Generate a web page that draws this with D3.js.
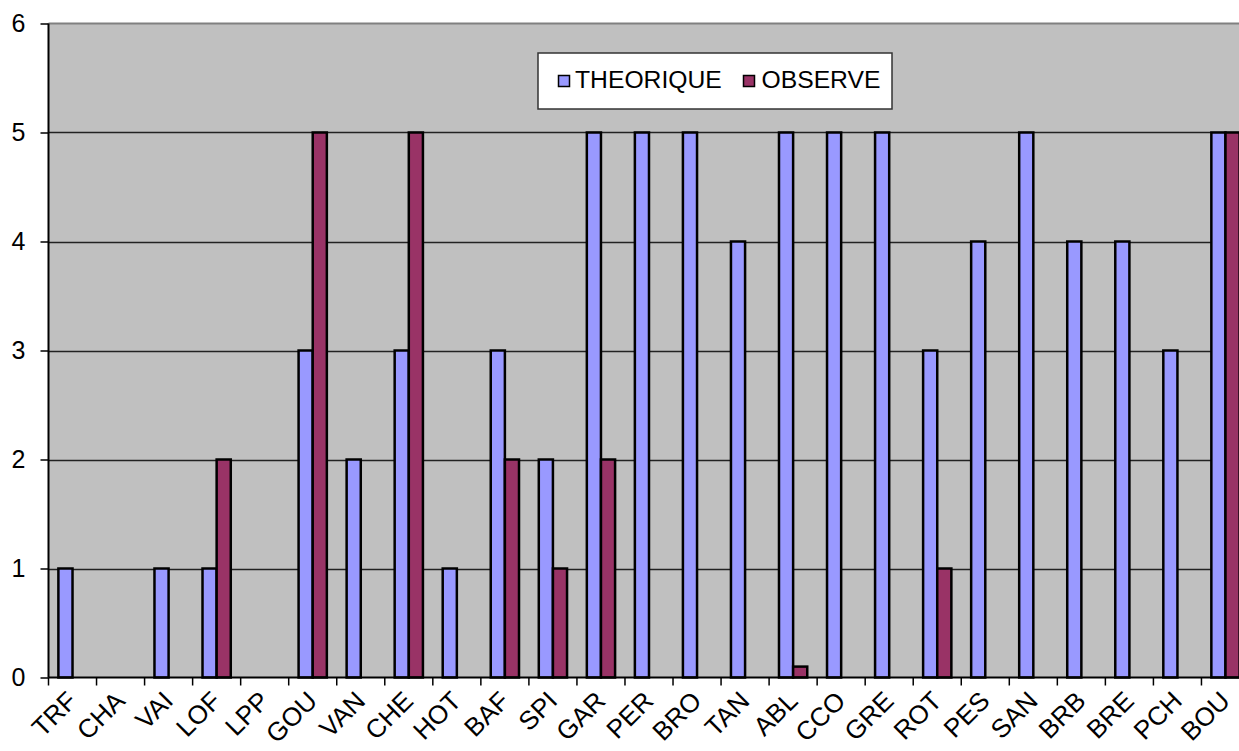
<!DOCTYPE html>
<html>
<head>
<meta charset="utf-8">
<script src="https://cdn.jsdelivr.net/npm/d3@7"></script>
<style>
  html, body { margin: 0; padding: 0; background: #fff; }
  svg { display: block; font-family: "Liberation Sans", Arial, sans-serif; }
</style>
</head>
<body>
<svg id="chart" width="1239" height="751"></svg>
<script>
// Site codes
const categories = ["TRF","CHA","VAI","LOF","LPP","GOU","VAN","CHE","HOT","BAF","SPI","GAR","PER",
  "BRO","TAN","ABL","CCO","GRE","ROT","PES","SAN","BRB","BRE","PCH","BOU"];
// Expected counts
const theorique = [1,0,1,1,0,3,2,3,1,3,2,5,5,5,4,5,5,5,3,4,5,4,4,3,5];
// Counted values
const observe   = [0,0,0,2,0,5,0,5,0,2,1,2,0,0,0,0.1,0,0,1,0,0,0,0,0,5];
const seriesNames = ["THEORIQUE", "OBSERVE"];
const seriesColors = ["#9999FF", "#993366"];
const yTicks = [0,1,2,3,4,5,6];

const FONT = "Liberation Sans, Arial, sans-serif";
const svg = d3.select("#chart");
const plotLeft = 48.5, plotTop = 23.5, plotBottom = 677.5;
const bandStep = 48.04;
const plotRight = plotLeft + bandStep * categories.length;

const x = d3.scaleBand().domain(categories).range([plotLeft, plotRight]).paddingInner(0).paddingOuter(0);
const inner = d3.scaleBand().domain(seriesNames).range([0, x.bandwidth()]).paddingInner(0).paddingOuter(0.7);
const y = d3.scaleLinear().domain([0, 6]).range([plotBottom, plotTop]);

// plot background
svg.append("rect").attr("x", plotLeft).attr("y", plotTop)
  .attr("width", plotRight - plotLeft).attr("height", plotBottom - plotTop)
  .attr("fill", "#C0C0C0");

// gridlines
svg.append("g").selectAll("line").data(yTicks.filter(d => d > 0 && d < 6)).join("line")
  .attr("x1", plotLeft).attr("x2", plotRight)
  .attr("y1", d => Math.round(y(d)) + 0.5).attr("y2", d => Math.round(y(d)) + 0.5)
  .attr("stroke", "#222").attr("stroke-width", 1.4);
svg.append("line").attr("x1", plotLeft).attr("x2", plotRight).attr("y1", plotTop).attr("y2", plotTop)
  .attr("stroke", "#808080").attr("stroke-width", 2);

// bars
const rows = categories.map((c, i) => ({ c, vals: [theorique[i], observe[i]] }));
const groups = svg.append("g").selectAll("g").data(rows).join("g")
  .attr("transform", d => `translate(${x(d.c)},0)`);
groups.selectAll("rect")
  .data(d => d.vals.map((v, j) => ({ v, s: seriesNames[j], j })).filter(e => e.v > 0))
  .join("rect")
  .attr("x", d => inner(d.s))
  .attr("width", inner.bandwidth())
  .attr("y", d => y(d.v))
  .attr("height", d => y(0) - y(d.v))
  .attr("fill", d => seriesColors[d.j])
  .attr("stroke", "#000").attr("stroke-width", 2.5);

// y axis
const yAxis = d3.axisLeft(y).tickValues(yTicks).tickSize(8).tickPadding(15).tickFormat(d3.format("d"));
const gy = svg.append("g").attr("transform", `translate(${plotLeft},0)`).call(yAxis);
gy.select(".domain").attr("stroke", "#000").attr("stroke-width", 2).attr("d", `M0,${plotTop}V${plotBottom}`);
gy.selectAll(".tick line").attr("stroke", "#000").attr("stroke-width", 1.5);
gy.selectAll(".tick text").attr("font-size", 25).attr("fill", "#000").attr("font-family", FONT);

// x axis
const xAxis = d3.axisBottom(x).tickSize(0).tickFormat(d => d);
const gx = svg.append("g").attr("transform", `translate(0,${plotBottom})`).call(xAxis);
gx.select(".domain").attr("stroke", "#000").attr("stroke-width", 2).attr("d", `M${plotLeft},0H${plotRight}`);
gx.selectAll(".tick text")
  .attr("font-size", 26).attr("fill", "#000").attr("font-family", FONT)
  .attr("text-anchor", "end")
  .attr("dy", null).attr("y", 0)
  .attr("transform", "translate(6,25) rotate(-45)");
// category boundary ticks
svg.append("g").selectAll("line").data(d3.range(categories.length + 1)).join("line")
  .attr("x1", i => plotLeft + i * bandStep).attr("x2", i => plotLeft + i * bandStep)
  .attr("y1", plotBottom).attr("y2", plotBottom + 8)
  .attr("stroke", "#000").attr("stroke-width", 1.5);

// legend
const lg = svg.append("g").attr("transform", "translate(538,53)");
lg.append("rect").attr("width", 354).attr("height", 56).attr("fill", "#fff")
  .attr("stroke", "#333").attr("stroke-width", 1.5);
const items = lg.selectAll("g.item").data(seriesNames).join("g").attr("class", "item")
  .attr("transform", (d, i) => `translate(${[20, 205][i]},0)`);
items.append("rect").attr("x", 0.5).attr("y", 22.5).attr("width", 11).attr("height", 11)
  .attr("fill", (d, i) => seriesColors[i]).attr("stroke", "#000").attr("stroke-width", 1.5);
items.append("text").attr("x", (d, i) => [17, 18.5][i]).attr("y", 34.5)
  .attr("font-size", 24.7).attr("fill", "#000").attr("font-family", FONT).text(d => d);
</script>
</body>
</html>
